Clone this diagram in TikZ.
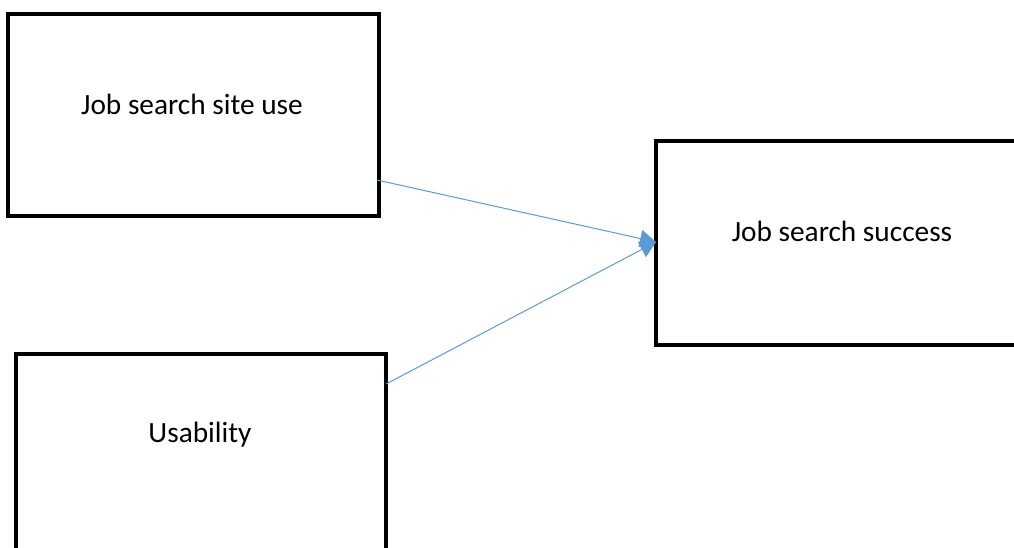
\documentclass[tikz,border=0pt]{standalone}
\usepackage{fontspec}
\setmainfont{Carlito}
\usetikzlibrary{arrows.meta}
\definecolor{linkblue}{HTML}{5B9BD5}
\tikzset{
  factor/.style={draw=black, line width=2.3pt},
  label/.style={font=\fontsize{22}{26}\selectfont},
  link/.style={draw=linkblue, line width=0.75pt, -{Triangle[length=12pt,width=13pt]}}
}
\begin{document}
\begin{tikzpicture}[x=0.75pt, y=-0.75pt]
\useasboundingbox (0,0) rectangle (1014,548);
\clip (0,0) rectangle (1014,548);
% boxes (the lower one and the right one run past the page edge)
\draw[factor] (8,14) rectangle (379,216);
\node[label] (use) at (192,104) {Job search site use};
\draw[factor] (16,354) rectangle (386,570);
\node[label] (usab) at (200,435) {Usability};
\draw[factor] (656,141) rectangle (1030,345);
\node[label] (succ) at (842,231) {Job search success};
% connector end points on the box edges
\coordinate (useR) at (377,180);
\coordinate (usabR) at (386,384);
\coordinate (succL) at (656,242);
\draw[link] (useR) -- (succL);
\draw[link] (usabR) -- (succL);
\end{tikzpicture}
\end{document}
